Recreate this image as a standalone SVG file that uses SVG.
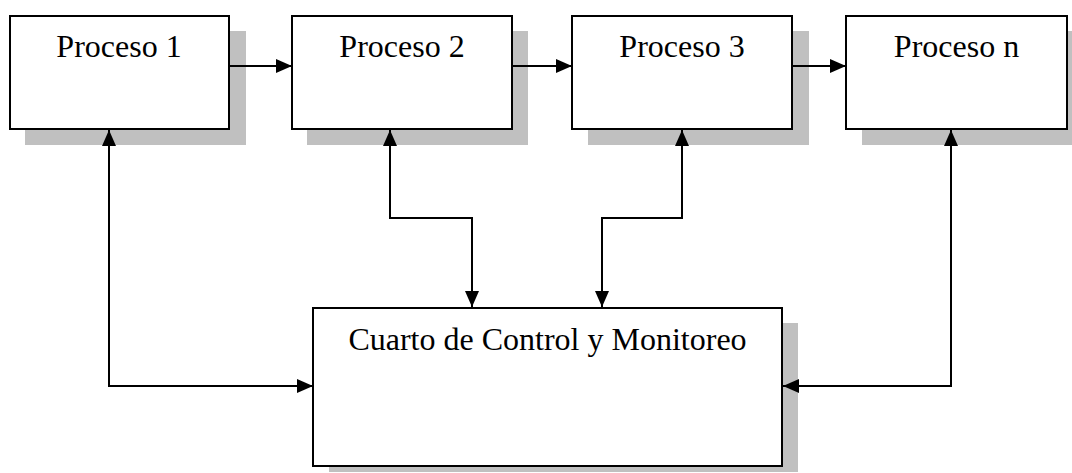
<svg xmlns="http://www.w3.org/2000/svg" width="1072" height="473" viewBox="0 0 1072 473">
  <style>
    .shadow { fill: #c0c0c0; stroke: none; }
    .box { fill: #ffffff; stroke: #000000; stroke-width: 2; }
    .label { font-family: "Liberation Serif", "Times New Roman", serif; font-size: 32px; fill: #000000; text-anchor: middle; }
    .wire { fill: none; stroke: #000000; stroke-width: 2; }
  </style>
  <defs>
    <marker id="arrow" viewBox="0 0 16 14" refX="16" refY="7" markerWidth="16" markerHeight="14" markerUnits="userSpaceOnUse" orient="auto-start-reverse">
      <path d="M0,0 L16,7 L0,14 Z" fill="#000000"/>
    </marker>
  </defs>
  <rect width="1072" height="473" fill="#ffffff"/>

  <g id="proceso-1">
    <rect class="shadow" x="25" y="31" width="221" height="114"/>
    <rect class="box" x="10" y="16" width="219" height="113"/>
    <text class="label" x="119" y="57">Proceso 1</text>
  </g>
  <g id="proceso-2">
    <rect class="shadow" x="307" y="31" width="221" height="114"/>
    <rect class="box" x="292" y="16" width="220" height="113"/>
    <text class="label" x="402" y="57">Proceso 2</text>
  </g>
  <g id="proceso-3">
    <rect class="shadow" x="588" y="31" width="221" height="114"/>
    <rect class="box" x="572" y="16" width="220" height="113"/>
    <text class="label" x="682" y="57">Proceso 3</text>
  </g>
  <g id="proceso-n">
    <rect class="shadow" x="862" y="31" width="221" height="114"/>
    <rect class="box" x="846" y="16" width="221" height="113"/>
    <text class="label" x="956.5" y="57">Proceso n</text>
  </g>
  <g id="cuarto-control">
    <rect class="shadow" x="329" y="323" width="469" height="149"/>
    <rect class="box" x="313" y="308" width="469" height="158"/>
    <text class="label" x="547.5" y="350">Cuarto de Control y Monitoreo</text>
  </g>

  <g id="connectors">
    <path class="wire" d="M229,66 H292" marker-end="url(#arrow)"/>
    <path class="wire" d="M512,66 H572" marker-end="url(#arrow)"/>
    <path class="wire" d="M792,66 H846" marker-end="url(#arrow)"/>
    <path class="wire" d="M109,130 V386 H313" marker-start="url(#arrow)" marker-end="url(#arrow)"/>
    <path class="wire" d="M390,130 V218 H472 V307" marker-start="url(#arrow)" marker-end="url(#arrow)"/>
    <path class="wire" d="M682,130 V218 H602 V307" marker-start="url(#arrow)" marker-end="url(#arrow)"/>
    <path class="wire" d="M951,130 V386 H783" marker-start="url(#arrow)" marker-end="url(#arrow)"/>
  </g>
</svg>
